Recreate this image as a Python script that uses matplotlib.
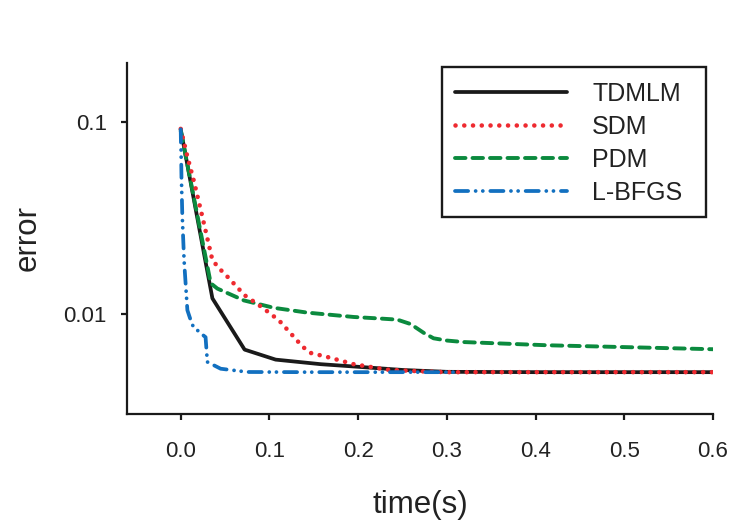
import matplotlib
matplotlib.use("Agg")
import matplotlib.pyplot as plt
from matplotlib.patches import Rectangle

# ---- data ----
t_tdmlm = [0.0, 0.0357, 0.072, 0.107, 0.158, 0.203, 0.251, 0.30, 0.40, 0.50, 0.60]
e_tdmlm = [0.0915, 0.0121, 0.00655, 0.00581, 0.0055, 0.00532, 0.00513, 0.00502, 0.0050, 0.0050, 0.0050]

t_sdm = [0.0, 0.0075, 0.015, 0.0244, 0.0357, 0.044, 0.0537, 0.072, 0.092, 0.1107, 0.1276,
         0.137, 0.146, 0.165, 0.195, 0.233, 0.27, 0.30, 0.40, 0.50, 0.60]
e_sdm = [0.092, 0.066, 0.0489, 0.0321, 0.0191, 0.0172, 0.0155, 0.01256, 0.01084, 0.0093, 0.00762,
         0.00681, 0.0063, 0.0060, 0.0055, 0.00515, 0.00505, 0.0050, 0.0050, 0.0050, 0.0050]

t_pdm = [0.0, 0.0338, 0.0413, 0.0713, 0.105, 0.1426, 0.195, 0.225, 0.244, 0.259, 0.274,
         0.285, 0.30, 0.319, 0.413, 0.50, 0.60]
e_pdm = [0.090, 0.0145, 0.0136, 0.0118, 0.0108, 0.0102, 0.00968, 0.0095, 0.00938, 0.0089, 0.0080,
         0.0075, 0.0073, 0.00717, 0.0069, 0.00675, 0.00658]

t_lbfgs = [0.0, 0.001, 0.0019, 0.0038, 0.0075, 0.013, 0.0206, 0.028, 0.030, 0.045, 0.075, 0.15, 0.307]
e_lbfgs = [0.0915, 0.046, 0.031, 0.019, 0.0105, 0.0088, 0.0081, 0.0076, 0.00565, 0.00521, 0.00501, 0.0050, 0.0050]

series_names = ["TDMLM", "SDM", "PDM", "L-BFGS"]
x_ticks = [0.0, 0.1, 0.2, 0.3, 0.4, 0.5, 0.6]
x_tick_labels = ["0.0", "0.1", "0.2", "0.3", "0.4", "0.5", "0.6"]
y_ticks = [0.01, 0.1]
y_tick_labels = ["0.01", "0.1"]

# ---- style ----
plt.rcParams['font.family'] = ['Liberation Sans', 'DejaVu Sans']
txt = '#222222'
c_black = '#1a1a1a'
c_red = '#ee2a30'
c_green = '#0b8a3e'
c_blue = '#1270c0'

W, H = 748, 521
fig = plt.figure(figsize=(W / 100, H / 100), dpi=100)
ax = fig.add_axes([127.5 / W, 1 - 414 / H, (713 - 127.5) / W, (414 - 62.5) / H])

l1, = ax.plot(t_tdmlm, e_tdmlm, color=c_black, lw=2.7, solid_capstyle='round',
              solid_joinstyle='round', zorder=3)
l3, = ax.plot(t_pdm, e_pdm, color=c_green, lw=2.8, ls=(0, (2.7, 1.8)),
              dash_capstyle='round', zorder=3)
l2, = ax.plot(t_sdm, e_sdm, color=c_red, lw=3.3, ls=(0, (0.01, 1.9)),
              dash_capstyle='round', zorder=4)
l4, = ax.plot(t_lbfgs, e_lbfgs, color=c_blue, lw=2.7, ls=(0, (3.5, 2.0, 0.01, 1.9, 0.01, 2.0)),
              dash_capstyle='round', zorder=5)

ax.set_yscale('log')
ax.set_xlim(-0.06, 0.6)
ax.set_ylim(0.00303, 0.2037)
ax.set_xticks(x_ticks)
ax.set_xticklabels(x_tick_labels)
ax.set_yticks(y_ticks)
ax.set_yticklabels(y_tick_labels)
ax.minorticks_off()
ax.yaxis.set_minor_locator(matplotlib.ticker.NullLocator())

for s in ['top', 'right']:
    ax.spines[s].set_visible(False)
for s in ['left', 'bottom']:
    ax.spines[s].set_linewidth(1.6)
    ax.spines[s].set_color(c_black)

ax.tick_params(axis='x', direction='out', length=4.3, width=1.6, color=c_black,
               labelsize=16, labelcolor=txt, pad=15)
ax.tick_params(axis='y', direction='out', length=4.0, width=1.6, color=c_black,
               labelsize=16, labelcolor=txt, pad=11)

ax.set_xlabel('time(s)', fontsize=22.5, color=txt, labelpad=20)
ax.set_ylabel('error', fontsize=22.5, color=txt, labelpad=15)

leg = ax.legend([l1, l2, l3, l4], series_names, loc='upper left',
                bbox_to_anchor=(442.3 / W, 1 - 69.5 / H), bbox_transform=fig.transFigure,
                frameon=False, fontsize=18, handlelength=4.5, handletextpad=1.0,
                labelspacing=0.36, borderpad=0.5, borderaxespad=0)
for t in leg.get_texts():
    t.set_color(txt)

fig.add_artist(Rectangle((442.3 / W, 1 - 216.7 / H), (706 - 442.3) / W, 150 / H,
                         transform=fig.transFigure, fill=False, lw=1.7, ec=c_black))

fig.savefig('out.png', dpi=100)
